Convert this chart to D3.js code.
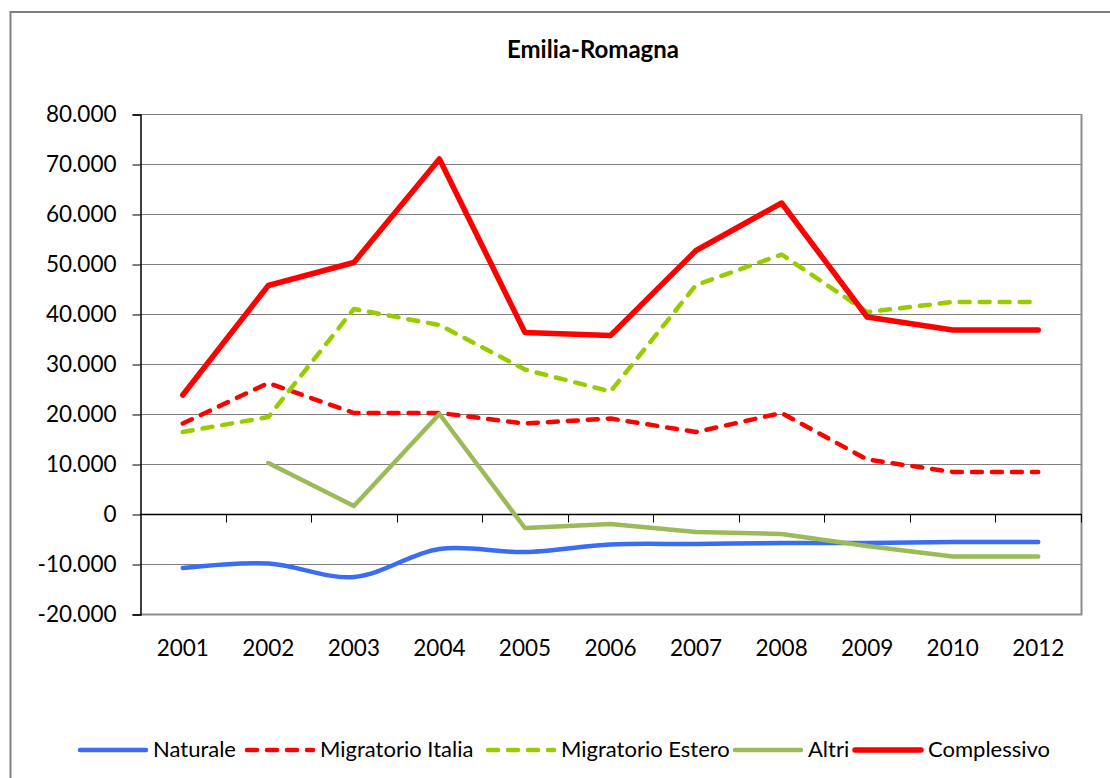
<!DOCTYPE html>
<meta charset="utf-8" />
<script src="https://d3js.org/d3.v7.min.js"></script>
<style>
  body { margin: 0; background: #fff; }
  text { font-family: Lato, "Open Sans", sans-serif; fill: #000; }
</style>
<body>
  <div id="chart"></div>
  <script>
    // data
    var years = ["2001", "2002", "2003", "2004", "2005", "2006", "2007", "2008", "2009", "2010", "2012"];
    var naturale = [-10800, -9900, -12600, -7000, -7600, -6100, -6000, -5800, -5800, -5600, -5600];
    var migItalia = [18100, 26200, 20200, 20200, 18100, 19100, 16400, 20200, 10900, 8400, 8400];
    var migEstero = [16400, 19400, 41000, 37800, 28900, 24500, 45800, 51900, 40400, 42400, 42400];
    var altri = [null, 10200, 1600, 20000, -2800, -2000, -3600, -4000, -6400, -8500, -8500];
    var complessivo = [23800, 45700, 50300, 71000, 36300, 35700, 52700, 62200, 39400, 36800, 36800];
    var yTicks = [-20000, -10000, 0, 10000, 20000, 30000, 40000, 50000, 60000, 70000, 80000];

    var series = [
      { name: "Naturale", values: naturale, color: "#3a6cf4", dash: null, width: 4.5, smooth: true },
      { name: "Migratorio Italia", values: migItalia, color: "#ff0000", dash: "10,10", width: 4.5, smooth: false },
      { name: "Migratorio Estero", values: migEstero, color: "#99cc00", dash: "10,10", width: 4.5, smooth: false },
      { name: "Altri", values: altri, color: "#9bbb59", dash: null, width: 4.5, smooth: false },
      { name: "Complessivo", values: complessivo, color: "#ff0000", dash: null, width: 5.5, smooth: false },
    ];

    var W = 1110, H = 778;
    var plot = { left: 140, right: 1081, top: 114, bottom: 614 };

    var svg = d3.select("#chart").append("svg")
      .attr("width", W)
      .attr("height", H);

    // outer chart frame
    svg.append("rect")
      .attr("x", 10.5).attr("y", 12)
      .attr("width", W + 20).attr("height", H + 20)
      .attr("fill", "none")
      .attr("stroke", "#7f7f7f")
      .attr("stroke-width", 2);

    var x = d3.scaleBand().domain(years).range([plot.left, plot.right]).padding(0);
    var y = d3.scaleLinear().domain([-20000, 80000]).range([plot.bottom, plot.top]);
    var cx = function (d) { return x(d) + x.bandwidth() / 2; };

    var it = d3.formatLocale({ decimal: ",", thousands: ".", grouping: [3], currency: ["", ""], minus: "-" });
    var fmt = it.format(",");

    // gridlines
    svg.append("g")
      .selectAll("line")
      .data(yTicks.filter(function (t) { return t !== 0 && t !== -20000; }))
      .enter().append("line")
      .attr("x1", plot.left).attr("x2", plot.right)
      .attr("y1", function (d) { return Math.round(y(d)) + 0.5; })
      .attr("y2", function (d) { return Math.round(y(d)) + 0.5; })
      .attr("stroke", "#808080")
      .attr("stroke-width", 1);

    // plot area border (right, bottom)
    svg.append("path")
      .attr("d", "M" + plot.left + "," + (plot.bottom + 0.5) + "H" + (plot.right + 0.5) + "V" + plot.top)
      .attr("fill", "none")
      .attr("stroke", "#8c8c8c")
      .attr("stroke-width", 2);

    // Y axis
    var yAxis = svg.append("g")
      .attr("transform", "translate(" + (plot.left + 0.5) + ",0.5)")
      .call(d3.axisLeft(y).tickValues(yTicks).tickFormat(fmt).tickSize(8).tickPadding(16));
    yAxis.select(".domain").attr("stroke", "#000").attr("stroke-width", 1.5);
    yAxis.selectAll(".tick line").attr("stroke", "#000");
    yAxis.selectAll("text")
      .style("font-size", "22.5px")
      .attr("fill", "#000");

    // X axis on zero line
    var y0 = Math.round(y(0)) + 0.5;
    svg.append("line")
      .attr("x1", plot.left).attr("x2", plot.right + 1)
      .attr("y1", y0).attr("y2", y0)
      .attr("stroke", "#000")
      .attr("stroke-width", 1.5);
    var bounds = years.slice(1).map(function (d) { return x(d); }).concat([plot.right]);
    svg.append("g").selectAll("line")
      .data(bounds)
      .enter().append("line")
      .attr("x1", function (d) { return Math.round(d) + 0.5; })
      .attr("x2", function (d) { return Math.round(d) + 0.5; })
      .attr("y1", y0).attr("y2", y0 + 8)
      .attr("stroke", "#000");

    // category labels below plot
    svg.append("g").selectAll("text")
      .data(years)
      .enter().append("text")
      .attr("x", cx)
      .attr("y", 656)
      .attr("text-anchor", "middle")
      .style("font-size", "22.5px")
      .text(function (d) { return d; });

    // lines
    series.forEach(function (s) {
      var line = d3.line()
        .defined(function (v) { return v !== null; })
        .x(function (v, i) { return cx(years[i]); })
        .y(function (v) { return y(v); })
        .curve(s.smooth ? d3.curveCatmullRom.alpha(0.5) : d3.curveLinear);
      svg.append("path")
        .datum(s.values)
        .attr("d", line)
        .attr("fill", "none")
        .attr("stroke", s.color)
        .attr("stroke-width", s.width)
        .attr("stroke-linecap", "round")
        .attr("stroke-linejoin", "round")
        .attr("stroke-dasharray", s.dash);
    });

    // title
    svg.append("text")
      .attr("x", 593)
      .attr("y", 58)
      .attr("text-anchor", "middle")
      .style("font-size", "24px")
      .style("font-weight", "bold")
      .text("Emilia-Romagna");

    // legend
    var legendX = [80, 247, 488, 735, 855];
    var legend = svg.append("g");
    series.forEach(function (s, i) {
      var lx = legendX[i];
      legend.append("line")
        .attr("x1", lx).attr("x2", lx + 66)
        .attr("y1", 750).attr("y2", 750)
        .attr("stroke", s.color)
        .attr("stroke-width", s.width)
        .attr("stroke-linecap", "round")
        .attr("stroke-dasharray", s.dash);
      legend.append("text")
        .attr("x", lx + 73)
        .attr("y", 757)
        .style("font-size", "22px")
        .text(s.name);
    });
  </script>
</body>
